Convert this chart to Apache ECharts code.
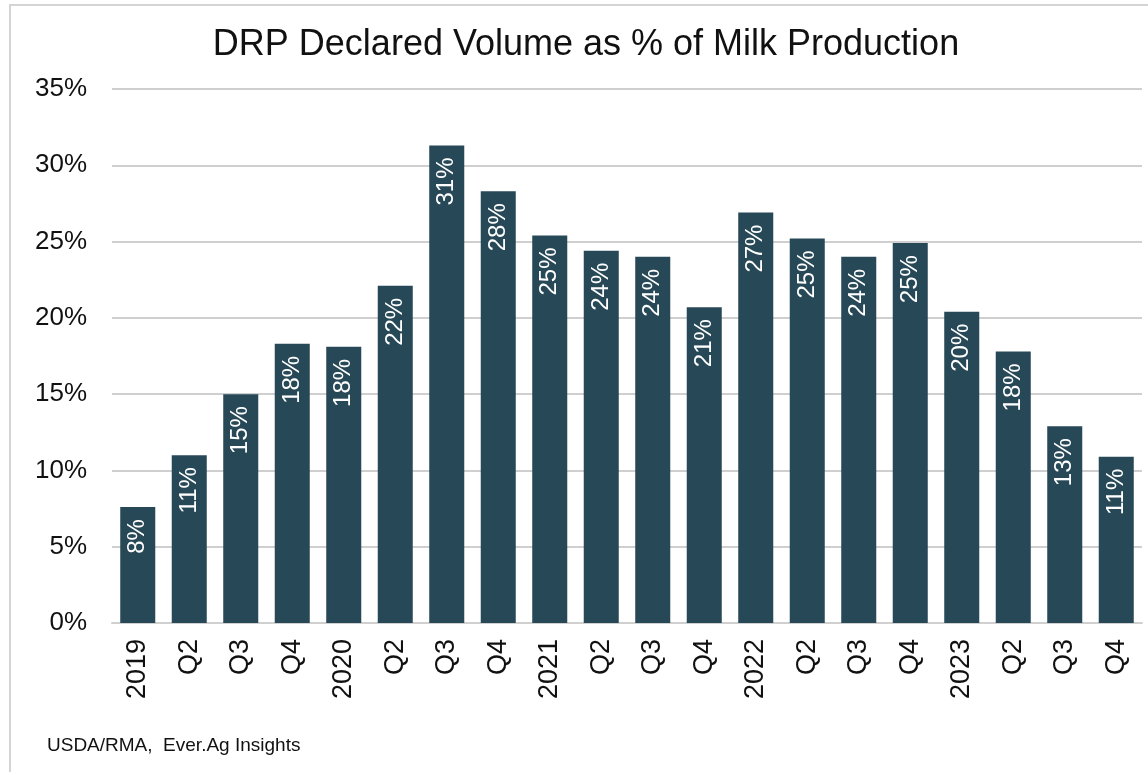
<!DOCTYPE html>
<html>
<head>
<meta charset="utf-8">
<script src="https://cdn.jsdelivr.net/npm/echarts@6/dist/echarts.min.js"></script>
<style>
  html, body { margin: 0; padding: 0; background: #ffffff; }
  #chart { width: 1148px; height: 772px; }
</style>
</head>
<body>
<div id="chart"></div>
<script>
// Quarterly DRP declared volume as a share of milk production
const quarters = ['2019', 'Q2', 'Q3', 'Q4', '2020', 'Q2', 'Q3', 'Q4',
                  '2021', 'Q2', 'Q3', 'Q4', '2022', 'Q2', 'Q3', 'Q4',
                  '2023', 'Q2', 'Q3', 'Q4'];
const sharePct = [7.6, 11.0, 15.0, 18.3, 18.1, 22.1, 31.3, 28.3,
                  25.4, 24.4, 24.0, 20.7, 26.9, 25.2, 24.0, 24.9,
                  20.4, 17.8, 12.9, 10.9];
const yTicks = { min: 0, max: 35, step: 5 };
const titleText = 'DRP Declared Volume as % of Milk Production';
const sourceText = 'USDA/RMA,  Ever.Ag Insights';

const FONT = '"Liberation Sans", Arial, sans-serif';
const chart = echarts.init(document.getElementById('chart'), null, { renderer: 'canvas' });

chart.setOption({
  animation: false,
  backgroundColor: '#ffffff',
  title: {
    text: titleText,
    left: 581,
    textAlign: 'center',
    top: 22,
    textStyle: { fontFamily: FONT, fontSize: 36, fontWeight: 'normal', color: '#111111' }
  },
  graphic: [
    {
      type: 'rect',
      shape: { x: 10, y: 5, width: 1200, height: 800 },
      style: { fill: 'none', stroke: '#d4d4d4', lineWidth: 2 },
      silent: true
    },
    {
      type: 'text',
      left: 47,
      top: 736,
      style: { text: sourceText, font: '19px ' + FONT, fill: '#111111' }
    }
  ],
  grid: { left: 112, right: 6, top: 89, bottom: 149, containLabel: false },
  xAxis: {
    type: 'category',
    data: quarters,
    axisLine: { show: true, lineStyle: { color: '#d0d0d0', width: 2 } },
    axisTick: { show: false },
    axisLabel: {
      rotate: 90,
      interval: 0,
      margin: 16,
      fontFamily: FONT,
      fontSize: 27,
      color: '#111111'
    }
  },
  yAxis: {
    type: 'value',
    min: yTicks.min,
    max: yTicks.max,
    interval: yTicks.step,
    axisLine: { show: false },
    axisTick: { show: false },
    splitLine: { lineStyle: { color: '#cfcfcf', width: 2 } },
    axisLabel: {
      formatter: v => v + '%',
      margin: 25,
      fontFamily: FONT,
      fontSize: 26,
      color: '#111111'
    }
  },
  series: [{
    type: 'bar',
    data: sharePct,
    barCategoryGap: '32%',
    itemStyle: { color: '#274857' },
    label: {
      show: true,
      position: 'insideTop',
      rotate: 90,
      align: 'right',
      verticalAlign: 'middle',
      distance: 12,
      formatter: p => Math.round(p.value) + '%',
      fontFamily: FONT,
      fontSize: 24,
      color: '#ffffff'
    }
  }]
});
</script>
</body>
</html>
